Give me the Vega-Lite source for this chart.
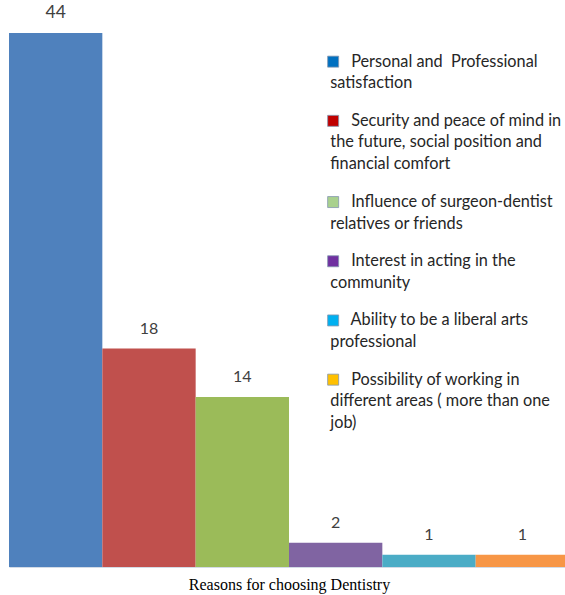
{
  "$schema": "https://vega.github.io/schema/vega-lite/v6.json",
  "width": 560,
  "height": 534,
  "autosize": "none",
  "padding": {"left": 9, "top": 33, "right": 0, "bottom": 28},
  "background": "white",
  "config": {
    "view": {"stroke": null},
    "style": {"guide-label": {"lineHeight": 21.5}}
  },
  "data": {
    "values": [
      {"reason": "Personal and Professional satisfaction", "count": 44},
      {"reason": "Security and peace of mind in the future, social position and financial comfort", "count": 18},
      {"reason": "Influence of surgeon-dentist relatives or friends", "count": 14},
      {"reason": "Interest in acting in the community", "count": 2},
      {"reason": "Ability to be a liberal arts professional", "count": 1},
      {"reason": "Possibility of working in different areas (more than one job)", "count": 1}
    ]
  },
  "encoding": {
    "x": {
      "field": "reason",
      "type": "nominal",
      "sort": null,
      "scale": {"paddingInner": 0, "paddingOuter": 0},
      "axis": {
        "title": "Reasons for choosing Dentistry",
        "labels": false,
        "ticks": false,
        "domainColor": "#d3dbe6",
        "titleFont": "Liberation Serif",
        "titleFontSize": 16,
        "titleFontWeight": "normal",
        "titleColor": "#000000",
        "titlePadding": 9
      }
    },
    "y": {
      "field": "count",
      "type": "quantitative",
      "scale": {"domain": [0, 44], "nice": false},
      "axis": null
    }
  },
  "layer": [
    {
      "mark": {"type": "bar"},
      "encoding": {
        "color": {
          "field": "reason",
          "type": "nominal",
          "sort": null,
          "scale": {
            "domain": [
              "Personal and Professional satisfaction",
              "Security and peace of mind in the future, social position and financial comfort",
              "Influence of surgeon-dentist relatives or friends",
              "Interest in acting in the community",
              "Ability to be a liberal arts professional",
              "Possibility of working in different areas (more than one job)"
            ],
            "range": ["#4F81BD", "#C0504D", "#9BBB59", "#8064A2", "#4BACC6", "#F79646"]
          },
          "legend": null
        }
      }
    },
    {
      "mark": {"type": "text", "dy": -20, "font": "Lato", "color": "#404040", "baseline": "middle"},
      "encoding": {
        "text": {"field": "count", "type": "quantitative"},
        "size": {"condition": {"test": "datum.count == 44", "value": 17.5}, "value": 16}
      }
    },
    {
      "mark": {"type": "point", "shape": "square", "filled": true, "opacity": 0},
      "encoding": {
        "fill": {
          "field": "reason",
          "type": "nominal",
          "sort": null,
          "scale": {
            "domain": [
              "Personal and Professional satisfaction",
              "Security and peace of mind in the future, social position and financial comfort",
              "Influence of surgeon-dentist relatives or friends",
              "Interest in acting in the community",
              "Ability to be a liberal arts professional",
              "Possibility of working in different areas (more than one job)"
            ],
            "range": ["#0070C0", "#C00000", "#A9D18E", "#7030A0", "#00B0F0", "#FFC000"]
          },
          "legend": {
            "title": null,
            "orient": "none",
            "legendX": 316,
            "legendY": 20.5,
            "symbolType": "square",
            "symbolSize": 121,
            "symbolOpacity": 1,
            "symbolStrokeColor": "#8497b0",
            "symbolStrokeWidth": 0.8,
            "labelFont": "Lato",
            "labelFontSize": 16.3,
            "labelColor": "#262626",
            "labelLimit": 400,
            "labelOffset": -11,
            "rowPadding": 21.2,
            "labelExpr": "indexof(datum.value, 'Personal') == 0 ? ['\u200b\u00a0\u00a0\u00a0\u00a0\u00a0Personal and\u00a0 Professional', 'satisfaction'] : indexof(datum.value, 'Security') == 0 ? ['\u200b\u00a0\u00a0\u00a0\u00a0\u00a0Security and peace of mind in', 'the future, social position and', 'financial comfort'] : indexof(datum.value, 'Influence') == 0 ? ['\u200b\u00a0\u00a0\u00a0\u00a0\u00a0Influence of surgeon-dentist', 'relatives or friends'] : indexof(datum.value, 'Interest') == 0 ? ['\u200b\u00a0\u00a0\u00a0\u00a0\u00a0Interest in acting in the', 'community'] : indexof(datum.value, 'Ability') == 0 ? ['\u200b\u00a0\u00a0\u00a0\u00a0\u00a0Ability to be a liberal arts', 'professional'] : ['\u200b\u00a0\u00a0\u00a0\u00a0\u00a0Possibility of working in', 'different areas ( more than one', 'job)']"
          }
        }
      }
    }
  ],
  "resolve": {"scale": {"color": "independent", "fill": "independent"}, "legend": {"fill": "independent"}}
}
